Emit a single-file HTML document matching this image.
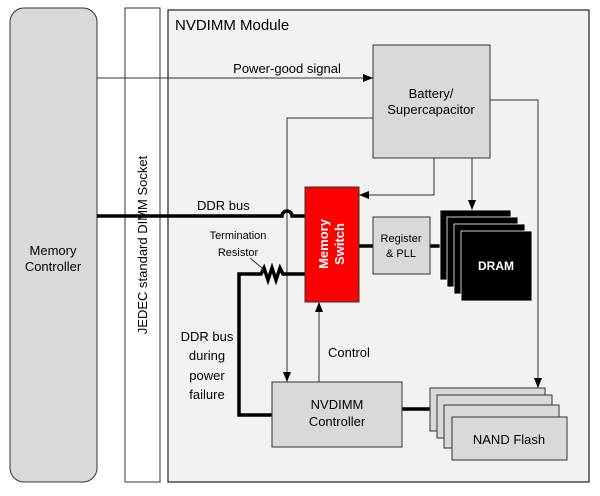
<html><body style="margin:0;background:#fff">
<svg width="600" height="496" xmlns="http://www.w3.org/2000/svg" font-family="Liberation Sans, sans-serif">
<defs><marker id="a" viewBox="0 0 10 10" refX="10" refY="5" markerWidth="10" markerHeight="10" markerUnits="userSpaceOnUse" orient="auto"><path d="M0,1L10,5L0,9z" fill="#000"/></marker></defs>
<rect x="168" y="10" width="421" height="472" fill="#f2f2f2" stroke="#333" stroke-width="1.3"/>
<rect x="10" y="8" width="87" height="474" rx="14" fill="#d9d9d9" stroke="#333"/>
<text x="53" y="255" font-size="13" text-anchor="middle">Memory</text>
<text x="53" y="271" font-size="13" text-anchor="middle">Controller</text>
<rect x="125" y="8" width="35" height="474" fill="#fff" stroke="#333"/>
<text transform="translate(147,245) rotate(-90)" font-size="13" text-anchor="middle">JEDEC standard DIMM Socket</text>
<text x="175" y="30" font-size="15">NVDIMM Module</text>
<g stroke="#333" fill="none" stroke-width="1">
<line x1="97" y1="78" x2="373" y2="78" marker-end="url(#a)"/>
<polyline points="490,100 538,100 538,388" marker-end="url(#a)"/>
<polyline points="434,158 434,195 359,195" marker-end="url(#a)"/>
<line x1="472" y1="158" x2="472" y2="210" marker-end="url(#a)"/>
<polyline points="373,118 287,118 287,382" marker-end="url(#a)"/>
<line x1="319" y1="382" x2="319" y2="302" marker-end="url(#a)"/>
<line x1="250" y1="258" x2="262" y2="268"/>
</g>
<g stroke="#000" fill="none" stroke-width="3.5">
<path d="M97,216H282a5,5 0 0 1 10,0H305"/>
<polyline points="305,274 283,274 280,268 276,280 272,268 268,280 264,268 261,274 239,274 239,415 272,415"/>
<line x1="359" y1="246" x2="373" y2="246"/>
<line x1="430" y1="246" x2="440" y2="246"/>
<line x1="402" y1="409" x2="430" y2="409"/>
</g>
<text x="287" y="73" font-size="13" text-anchor="middle">Power-good signal</text>
<rect x="373" y="45" width="117" height="113" fill="#d9d9d9" stroke="#333"/>
<text x="431" y="98" font-size="13" text-anchor="middle">Battery/</text>
<text x="431" y="114" font-size="13" text-anchor="middle">Supercapacitor</text>
<text x="197" y="210" font-size="13">DDR bus</text>
<text x="238" y="239" font-size="11" text-anchor="middle">Termination</text>
<text x="238" y="256" font-size="11" text-anchor="middle">Resistor</text>
<rect x="305" y="187" width="54" height="115" fill="#ff0000" stroke="#333"/>
<text transform="translate(328,244) rotate(-90)" font-size="13" font-weight="bold" fill="#fff" text-anchor="middle">Memory</text>
<text transform="translate(344,244) rotate(-90)" font-size="13" font-weight="bold" fill="#fff" text-anchor="middle">Switch</text>
<rect x="373" y="217" width="57" height="57" fill="#d9d9d9" stroke="#333"/>
<text x="401" y="242" font-size="11" text-anchor="middle">Register</text>
<text x="401" y="257" font-size="11" text-anchor="middle">&amp; PLL</text>
<g fill="#000" stroke="#fff" stroke-width="0.8">
<rect x="440" y="210" width="71" height="70"/><rect x="447" y="217" width="71" height="70"/><rect x="454" y="224" width="71" height="70"/><rect x="461" y="231" width="71" height="70"/>
</g>
<text x="496" y="270" font-size="12" font-weight="bold" fill="#fff" text-anchor="middle">DRAM</text>
<text x="207" y="341" font-size="13" text-anchor="middle">DDR bus</text>
<text x="207" y="360" font-size="13" text-anchor="middle">during</text>
<text x="207" y="380" font-size="13" text-anchor="middle">power</text>
<text x="207" y="399" font-size="13" text-anchor="middle">failure</text>
<text x="328" y="357" font-size="13">Control</text>
<rect x="272" y="382" width="130" height="65" fill="#d9d9d9" stroke="#333"/>
<text x="337" y="409" font-size="13" text-anchor="middle">NVDIMM</text>
<text x="337" y="426" font-size="13" text-anchor="middle">Controller</text>
<g fill="#d9d9d9" stroke="#333">
<rect x="430" y="388" width="115" height="43"/><rect x="437" y="395" width="115" height="43"/><rect x="444" y="405" width="115" height="43"/><rect x="452" y="417" width="115" height="43"/>
</g>
<text x="509" y="444" font-size="13" text-anchor="middle">NAND Flash</text>
</svg>
</body></html>
